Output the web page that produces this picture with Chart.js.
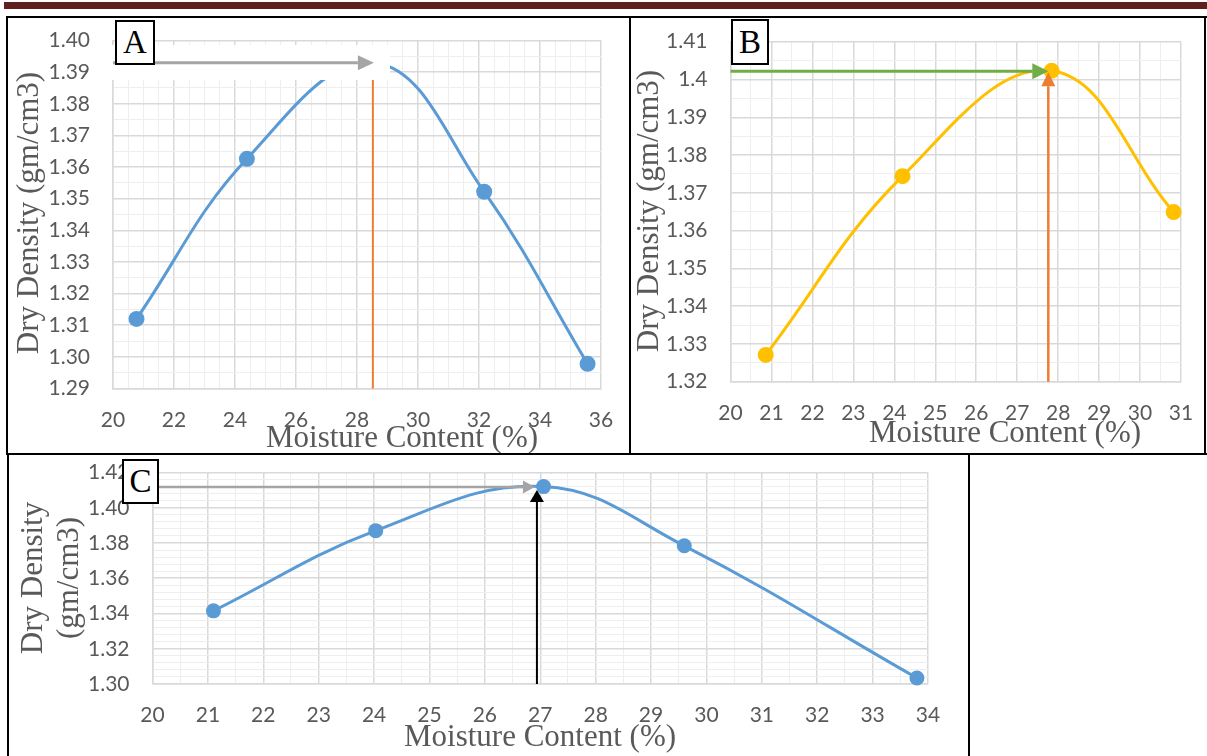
<!DOCTYPE html>
<html>
<head>
<meta charset="utf-8">
<script src="https://cdn.jsdelivr.net/npm/chart.js@4/dist/chart.umd.min.js"></script>
<style>
  html, body { margin: 0; padding: 0; background: #fff; }
  body { position: relative; width: 1207px; height: 756px; overflow: hidden; }
  .rule { position: absolute; background: #000; }
  canvas { position: absolute; }
  .tag {
    position: absolute; box-sizing: border-box; border: 2px solid #000; background: #fff;
    font: 33px "Liberation Serif", "Times New Roman", serif; color: #000;
    display: flex; align-items: center; justify-content: center; line-height: 1;
  }
</style>
</head>
<body>
<div class="rule" style="left:4px;top:2px;width:1203px;height:7px;background:#5f2120"></div>
<div class="rule" style="left:6px;top:16px;width:1201px;height:2px"></div>
<div class="rule" style="left:6px;top:16px;width:2px;height:439px"></div>
<div class="rule" style="left:629px;top:16px;width:2px;height:439px"></div>
<div class="rule" style="left:1204px;top:16px;width:2px;height:439px"></div>
<div class="rule" style="left:6px;top:453px;width:1201px;height:2px"></div>
<div class="rule" style="left:7px;top:453px;width:2px;height:303px"></div>
<div class="rule" style="left:968px;top:453px;width:2px;height:303px"></div>

<canvas id="chartA" width="620" height="434" style="left:8px;top:19px"></canvas>
<canvas id="chartB" width="572" height="434" style="left:632px;top:19px"></canvas>
<canvas id="chartC" width="956" height="299" style="left:10px;top:457px"></canvas>

<div class="tag" style="left:115px;top:20px;width:40px;height:45px">A</div>
<div class="tag" style="left:731px;top:19px;width:38px;height:46px">B</div>
<div class="tag" style="left:122px;top:459px;width:37px;height:45px">C</div>

<script>
// Compaction curves: moisture content (%) against dry density (gm/cm3)
const moistureA = [20.77, 24.39, 28.6, 32.17, 35.56];
const densityA  = [1.312, 1.3626, 1.393, 1.3522, 1.2978];
const moistureB = [20.86, 24.2, 27.84, 30.82];
const densityB  = [1.3271, 1.3744, 1.4023, 1.3649];
const moistureC = [21.1, 24.03, 27.06, 29.6, 33.8];
const densityC  = [1.3415, 1.387, 1.412, 1.3784, 1.3034];

// optimum moisture content and maximum dry density read-off for each curve
const optimumA = [28.52, 1.393];
const optimumB = [27.76, 1.4022];
const optimumC = [26.94, 1.4118];

// axis ticks and their labels
const xTicksA  = [20, 22, 24, 26, 28, 30, 32, 34, 36];
const xLabelsA = ['20', '22', '24', '26', '28', '30', '32', '34', '36'];
const yTicksA  = [1.29, 1.30, 1.31, 1.32, 1.33, 1.34, 1.35, 1.36, 1.37, 1.38, 1.39, 1.40];
const yLabelsA = ['1.29', '1.30', '1.31', '1.32', '1.33', '1.34', '1.35', '1.36', '1.37', '1.38', '1.39', '1.40'];

const xTicksB  = [20, 21, 22, 23, 24, 25, 26, 27, 28, 29, 30, 31];
const xLabelsB = ['20', '21', '22', '23', '24', '25', '26', '27', '28', '29', '30', '31'];
const yTicksB  = [1.32, 1.33, 1.34, 1.35, 1.36, 1.37, 1.38, 1.39, 1.40, 1.41];
const yLabelsB = ['1.32', '1.33', '1.34', '1.35', '1.36', '1.37', '1.38', '1.39', '1.4', '1.41'];

const xTicksC  = [20, 21, 22, 23, 24, 25, 26, 27, 28, 29, 30, 31, 32, 33, 34];
const xLabelsC = ['20', '21', '22', '23', '24', '25', '26', '27', '28', '29', '30', '31', '32', '33', '34'];
const yTicksC  = [1.30, 1.32, 1.34, 1.36, 1.38, 1.40, 1.42];
const yLabelsC = ['1.30', '1.32', '1.34', '1.36', '1.38', '1.40', '1.42'];

const xTitle = 'Moisture Content (%)';
const yTitle = 'Dry Density (gm/cm3)';

const TEXT = '#595959';
const TICK_FONT = { family: 'Lato', size: 21 };
const TITLE_FONT = '31px "Liberation Serif", "Times New Roman", serif';

// major ticks plus evenly spaced minor grid lines between them
function gridTicks(majors, sub) {
  const out = [];
  majors.forEach((v, i) => {
    out.push({ value: v, mj: true });
    if (i < majors.length - 1) {
      const step = (majors[i + 1] - v) / sub;
      for (let k = 1; k < sub; k++) out.push({ value: v + step * k, mj: false });
    }
  });
  return out;
}

function axis(majors, labels, sub, size, pad, horizontal) {
  return {
    type: 'linear',
    min: majors[0],
    max: majors[majors.length - 1],
    afterBuildTicks: s => { s.ticks = gridTicks(majors, sub); },
    afterFit: s => {
      if (horizontal) s.height = size; else s.width = size;
      s.paddingTop = 0; s.paddingBottom = 0; s.paddingLeft = 0; s.paddingRight = 0;
    },
    ticks: {
      autoSkip: false, maxRotation: 0, minRotation: 0, padding: pad,
      color: TEXT, font: TICK_FONT,
      callback: (v, i, t) => {
        if (!t[i] || !t[i].mj) return '';
        const k = majors.findIndex(m => Math.abs(m - v) < 1e-9);
        return k < 0 ? '' : labels[k];
      }
    },
    grid: {
      drawTicks: false,
      color: c => (c.tick && c.tick.mj ? '#d9d9d9' : '#eeeeee'),
      lineWidth: c => (c.tick && c.tick.mj ? 1.5 : 1)
    },
    border: { display: true, color: '#d9d9d9', width: 1.5 }
  };
}

function arrow(ctx, x1, y1, x2, y2, color, w, len, half) {
  const ang = Math.atan2(y2 - y1, x2 - x1);
  const bx = x2 - len * Math.cos(ang), by = y2 - len * Math.sin(ang);
  ctx.strokeStyle = color; ctx.lineWidth = w;
  ctx.beginPath(); ctx.moveTo(x1, y1); ctx.lineTo(bx, by); ctx.stroke();
  ctx.fillStyle = color;
  ctx.beginPath();
  ctx.moveTo(x2, y2);
  ctx.lineTo(bx + half * Math.sin(ang), by - half * Math.cos(ang));
  ctx.lineTo(bx - half * Math.sin(ang), by + half * Math.cos(ang));
  ctx.closePath(); ctx.fill();
}

function label(ctx, text, x, y, rot) {
  ctx.save();
  ctx.translate(x, y); ctx.rotate(rot);
  ctx.fillStyle = TEXT; ctx.font = TITLE_FONT;
  ctx.textAlign = 'center'; ctx.textBaseline = 'middle';
  ctx.fillText(text, 0, 0);
  ctx.restore();
}

function makeChart(id, cfg) {
  const decor = {
    id: 'decor_' + id,
    afterDatasetsDraw(chart) {
      const { ctx, chartArea, scales } = chart;
      const px = scales.x.getPixelForValue(cfg.optimum[0]);
      const py = scales.y.getPixelForValue(cfg.optimum[1]);
      ctx.save();
      cfg.markers(ctx, chartArea, px, py);
      ctx.restore();
    },
    afterDraw(chart) {
      cfg.titles(chart.ctx);
    }
  };
  return new Chart(document.getElementById(id), {
    type: 'line',
    data: {
      datasets: [{
        data: cfg.xs.map((x, i) => ({ x, y: cfg.ys[i] })),
        borderColor: cfg.color,
        backgroundColor: cfg.color,
        pointBackgroundColor: cfg.color,
        pointBorderColor: cfg.color,
        pointBorderWidth: 0,
        borderWidth: 3,
        pointRadius: cfg.radius,
        pointHoverRadius: cfg.radius,
        tension: 0.4,
        clip: false
      }]
    },
    options: {
      responsive: false, animation: false, devicePixelRatio: 1, events: [],
      layout: { padding: { left: 0, top: cfg.top, right: cfg.right, bottom: 0 } },
      plugins: { legend: { display: false }, tooltip: { enabled: false } },
      scales: {
        x: axis(cfg.xt, cfg.xl, cfg.xsub, cfg.xh, 19, true),
        y: axis(cfg.yt, cfg.yl, cfg.ysub, cfg.yw, 23, false)
      }
    },
    plugins: [decor]
  });
}

makeChart('chartA', {
  xs: moistureA, ys: densityA, optimum: optimumA, color: '#5b9bd5', radius: 8,
  xt: xTicksA, xl: xLabelsA, xsub: 4, yt: yTicksA, yl: yLabelsA, ysub: 2,
  top: 21.5, right: 27, yw: 105, xh: 64.5,
  markers(ctx, a, px, py) {
    ctx.strokeStyle = '#ed7d31'; ctx.lineWidth = 2;
    ctx.beginPath(); ctx.moveTo(px, py); ctx.lineTo(px, a.bottom); ctx.stroke();
    ctx.fillStyle = '#fff';
    ctx.fillRect(a.left - 2, 26, 382 - (a.left - 2), 35);
    arrow(ctx, a.left, py, px + 1, py, '#a5a5a5', 3, 16, 7.5);
  },
  titles(ctx) {
    label(ctx, yTitle, 22, 194, -Math.PI / 2);
    label(ctx, xTitle, 394, 420, 0);
  }
});

makeChart('chartB', {
  xs: moistureB, ys: densityB, optimum: optimumB, color: '#ffc000', radius: 8,
  xt: xTicksB, xl: xLabelsB, xsub: 2, yt: yTicksB, yl: yLabelsB, ysub: 2,
  top: 22.7, right: 23, yw: 98.5, xh: 71.3,
  markers(ctx, a, px, py) {
    arrow(ctx, a.left, py, px, py, '#70ad47', 3, 16, 8);
    arrow(ctx, px, a.bottom, px, py + 1, '#ed7d31', 2.5, 14, 7);
  },
  titles(ctx) {
    label(ctx, yTitle, 18, 192, -Math.PI / 2);
    label(ctx, xTitle, 373, 415, 0);
  }
});

makeChart('chartC', {
  xs: moistureC, ys: densityC, optimum: optimumC, color: '#5b9bd5', radius: 7.5,
  xt: xTicksC, xl: xLabelsC, xsub: 2, yt: yTicksC, yl: yLabelsC, ysub: 5,
  top: 15.5, right: 38, yw: 142.5, xh: 72,
  markers(ctx, a, px, py) {
    arrow(ctx, a.left, py, px - 2, py, '#a5a5a5', 2.5, 12, 6.5);
    arrow(ctx, px, a.bottom, px, py + 3, '#000000', 2, 12, 7);
  },
  titles(ctx) {
    label(ctx, 'Dry Density', 24, 121, -Math.PI / 2);
    label(ctx, '(gm/cm3)', 60, 121, -Math.PI / 2);
    label(ctx, xTitle, 530, 281, 0);
  }
});
</script>
</body>
</html>
